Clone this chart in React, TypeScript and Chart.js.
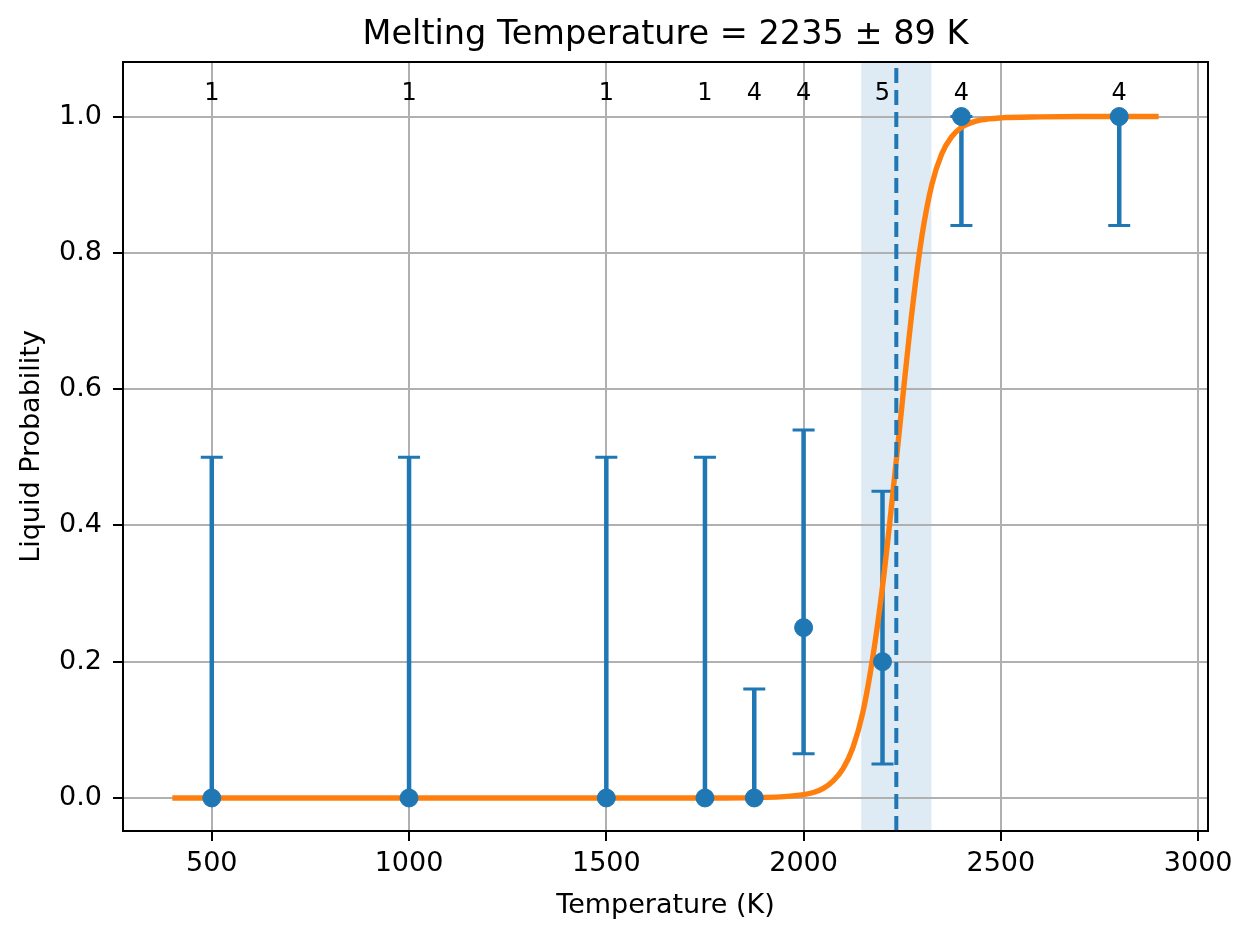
import { useEffect, useRef } from 'react';
import { Chart, registerables } from 'chart.js';

Chart.register(...registerables);

// measured temperatures and liquid fraction
const temps = [500, 1000, 1500, 1750, 1875, 2000, 2200, 2400, 2800];
const liquidProb = [0, 0, 0, 0, 0, 0.25, 0.2, 1, 1];
const errLow = [0, 0, 0, 0, 0, 0.065, 0.05, 0.84, 0.84];
const errHigh = [0.5, 0.5, 0.5, 0.5, 0.16, 0.54, 0.45, 1, 1];
const runCounts = [1, 1, 1, 1, 4, 4, 5, 4, 4];

// fitted curve
const fitT = [400, 1800, 1900, 1950, 2000, 2025, 2050, 2075, 2100, 2125, 2150, 2175, 2200, 2225, 2250, 2275, 2300, 2325, 2350, 2375, 2400, 2425, 2450, 2500, 2600, 2700, 2900];
const fitP = [0, 0, 0.0008, 0.002, 0.005, 0.008, 0.014, 0.025, 0.043, 0.074, 0.125, 0.205, 0.31, 0.44, 0.58, 0.715, 0.825, 0.9, 0.945, 0.97, 0.984, 0.991, 0.995, 0.998, 0.9995, 1, 1];

const meltT = 2235;
const meltErr = 89;
const countLabelY = 1.034;

const xTicks = [500, 1000, 1500, 2000, 2500, 3000];
const yTicks = [0, 0.2, 0.4, 0.6, 0.8, 1.0];

const BLUE = '#1f77b4';
const ORANGE = '#ff7f0e';
const FONT = 'DejaVu Sans';

const overlays = {
  id: 'overlays',
  beforeDraw(chart: any) {
    const { ctx, chartArea, scales } = chart;
    const x = scales.x;
    // uncertainty band
    ctx.save();
    ctx.fillStyle = 'rgba(31,119,180,0.15)';
    const l = x.getPixelForValue(meltT - meltErr);
    const r = x.getPixelForValue(meltT + meltErr);
    ctx.fillRect(l, chartArea.top, r - l, chartArea.bottom - chartArea.top);
    ctx.restore();
  },
  beforeDatasetsDraw(chart: any) {
    const { ctx, scales } = chart;
    const x = scales.x;
    const y = scales.y;
    ctx.save();
    ctx.strokeStyle = BLUE;
    temps.forEach((t, i) => {
      const px = x.getPixelForValue(t);
      const lo = y.getPixelForValue(errLow[i]);
      const hi = y.getPixelForValue(errHigh[i]);
      ctx.lineWidth = 4.5;
      ctx.beginPath();
      ctx.moveTo(px, lo);
      ctx.lineTo(px, hi);
      ctx.stroke();
      ctx.lineWidth = 3;
      ctx.beginPath();
      ctx.moveTo(px - 11, lo);
      ctx.lineTo(px + 11, lo);
      ctx.moveTo(px - 11, hi);
      ctx.lineTo(px + 11, hi);
      ctx.stroke();
    });
    ctx.restore();
  },
  afterDatasetsDraw(chart: any) {
    const { ctx, chartArea, scales } = chart;
    const x = scales.x;
    const y = scales.y;
    ctx.save();
    // melting point
    ctx.strokeStyle = BLUE;
    ctx.lineWidth = 4;
    ctx.setLineDash([15, 7]);
    const mx = x.getPixelForValue(meltT);
    ctx.beginPath();
    ctx.moveTo(mx, chartArea.bottom);
    ctx.lineTo(mx, chartArea.top);
    ctx.stroke();
    ctx.setLineDash([]);
    // number of runs above each point
    ctx.fillStyle = '#000';
    ctx.font = `24px "${FONT}"`;
    ctx.textAlign = 'center';
    ctx.textBaseline = 'middle';
    temps.forEach((t, i) => {
      ctx.fillText(String(runCounts[i]), x.getPixelForValue(t), y.getPixelForValue(countLabelY));
    });
    ctx.restore();
  },
  afterDraw(chart: any) {
    const { ctx, chartArea } = chart;
    ctx.save();
    ctx.strokeStyle = '#000';
    ctx.lineWidth = 2;
    ctx.strokeRect(chartArea.left, chartArea.top, chartArea.right - chartArea.left, chartArea.bottom - chartArea.top);
    // title, centred over the axes like matplotlib
    ctx.fillStyle = '#000';
    ctx.font = `33.5px "${FONT}"`;
    ctx.textAlign = 'center';
    ctx.textBaseline = 'middle';
    ctx.fillText(`Melting Temperature = ${meltT} ± ${meltErr} K`, (chartArea.left + chartArea.right) / 2, 35);
    ctx.restore();
  },
};

export default function App() {
  const canvasRef = useRef<HTMLCanvasElement>(null);

  useEffect(() => {
    document.body.style.margin = '0';
    if (!canvasRef.current) return;

    const chart = new Chart(canvasRef.current, {
      type: 'line',
      data: {
        datasets: [
          {
            label: 'data',
            data: temps.map((t, i) => ({ x: t, y: liquidProb[i] })),
            showLine: false,
            pointRadius: 9,
            pointBackgroundColor: BLUE,
            pointBorderColor: BLUE,
            pointBorderWidth: 1,
            order: 0,
          },
          {
            label: 'fit',
            data: fitT.map((t, i) => ({ x: t, y: fitP[i] })),
            borderColor: ORANGE,
            borderWidth: 5.4,
            pointRadius: 0,
            cubicInterpolationMode: 'monotone',
            order: 1,
          },
        ],
      },
      options: {
        responsive: false,
        animation: false,
        events: [],
        layout: { padding: { left: 0, right: 45, top: 62, bottom: 0 } },
        scales: {
          x: {
            type: 'linear',
            min: 275,
            max: 3025,
            afterBuildTicks: (scale: any) => {
              scale.ticks = xTicks.map((v) => ({ value: v }));
            },
            afterFit: (scale: any) => {
              scale.height = 108;
            },
            border: { display: false },
            grid: { color: '#b0b0b0', lineWidth: 2, tickColor: '#000', tickWidth: 2, tickLength: 10 },
            ticks: {
              color: '#000',
              font: { family: FONT, size: 27 },
              padding: 7,
              maxRotation: 0,
              callback: (v: any) => String(v),
            },
            title: {
              display: true,
              text: 'Temperature (K)',
              color: '#000',
              font: { family: FONT, size: 27 },
              padding: { top: 0, bottom: 17 },
            },
          },
          y: {
            type: 'linear',
            min: -0.0485,
            max: 1.08,
            afterBuildTicks: (scale: any) => {
              scale.ticks = yTicks.map((v) => ({ value: v }));
            },
            afterFit: (scale: any) => {
              scale.width = 123;
            },
            border: { display: false },
            grid: { color: '#b0b0b0', lineWidth: 2, tickColor: '#000', tickWidth: 2, tickLength: 10 },
            ticks: {
              color: '#000',
              font: { family: FONT, size: 27 },
              padding: 11,
              callback: (v: any) => Number(v).toFixed(1),
            },
            title: {
              display: true,
              text: 'Liquid Probability',
              color: '#000',
              font: { family: FONT, size: 27 },
              padding: { top: 16, bottom: 0 },
            },
          },
        },
        plugins: {
          legend: { display: false },
          tooltip: { enabled: false },
          title: { display: false },
        },
      },
      plugins: [overlays],
    } as any);

    return () => {
      chart.destroy();
    };
  }, []);

  return (
    <div style={{ width: 1253, height: 939, background: '#fff' }}>
      <canvas ref={canvasRef} width={1253} height={939} />
    </div>
  );
}
